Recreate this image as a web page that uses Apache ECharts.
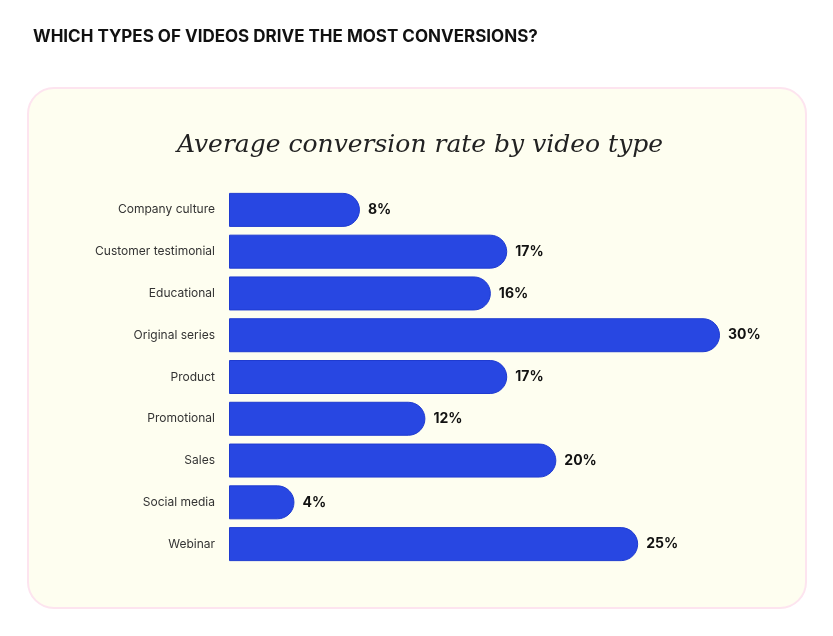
<!DOCTYPE html>
<html>
<head>
<meta charset="utf-8">
<script src="https://cdn.jsdelivr.net/npm/echarts@6/dist/echarts.min.js"></script>
<style>
  html, body { margin: 0; padding: 0; background: #ffffff; }
  #main { width: 833px; height: 636px; }
</style>
</head>
<body>
<div id="main"></div>
<script>
// data
var categories = ['Company culture', 'Customer testimonial', 'Educational', 'Original series',
    'Product', 'Promotional', 'Sales', 'Social media', 'Webinar'];
var rates = [8, 17, 16, 30, 17, 12, 20, 4, 25];

var chart = echarts.init(document.getElementById('main'));
var option = {
    animation: false,
    title: [{
        text: 'WHICH TYPES OF VIDEOS DRIVE THE MOST CONVERSIONS?',
        left: 28,
        top: 23,
        textStyle: { fontFamily: 'Inter', fontWeight: 'bold', fontSize: 17, color: '#111111' }
    }, {
        text: 'Average conversion rate by video type',
        left: 415,
        textAlign: 'center',
        top: 128,
        textStyle: { fontFamily: 'DejaVu Serif', fontStyle: 'italic', fontWeight: 'normal', fontSize: 25, color: '#222222' }
    }],
    graphic: [{
        type: 'rect',
        z: -10,
        shape: { x: 28, y: 88, width: 778, height: 520, r: 26 },
        style: { fill: '#fefef0', stroke: '#fde4ef', lineWidth: 2 }
    }],
    grid: { left: 229, right: 113, top: 189, bottom: 71 },
    xAxis: {
        type: 'value',
        min: 0,
        max: 30,
        show: false
    },
    yAxis: {
        type: 'category',
        data: categories,
        inverse: true,
        axisLine: { show: false },
        axisTick: { show: false },
        axisLabel: { margin: 14, fontFamily: 'Inter', fontSize: 12, color: '#333333' }
    },
    series: [{
        type: 'bar',
        data: rates,
        barWidth: 34,
        itemStyle: { color: '#2847e2', borderColor: '#1f3bd0', borderWidth: 1, borderRadius: [0, 17, 17, 0] },
        label: {
            show: true,
            position: 'right',
            distance: 8,
            formatter: '{c}%',
            fontFamily: 'Inter',
            fontWeight: 'bold',
            fontSize: 14,
            color: '#111111'
        }
    }]
};
chart.setOption(option);
</script>
</body>
</html>
